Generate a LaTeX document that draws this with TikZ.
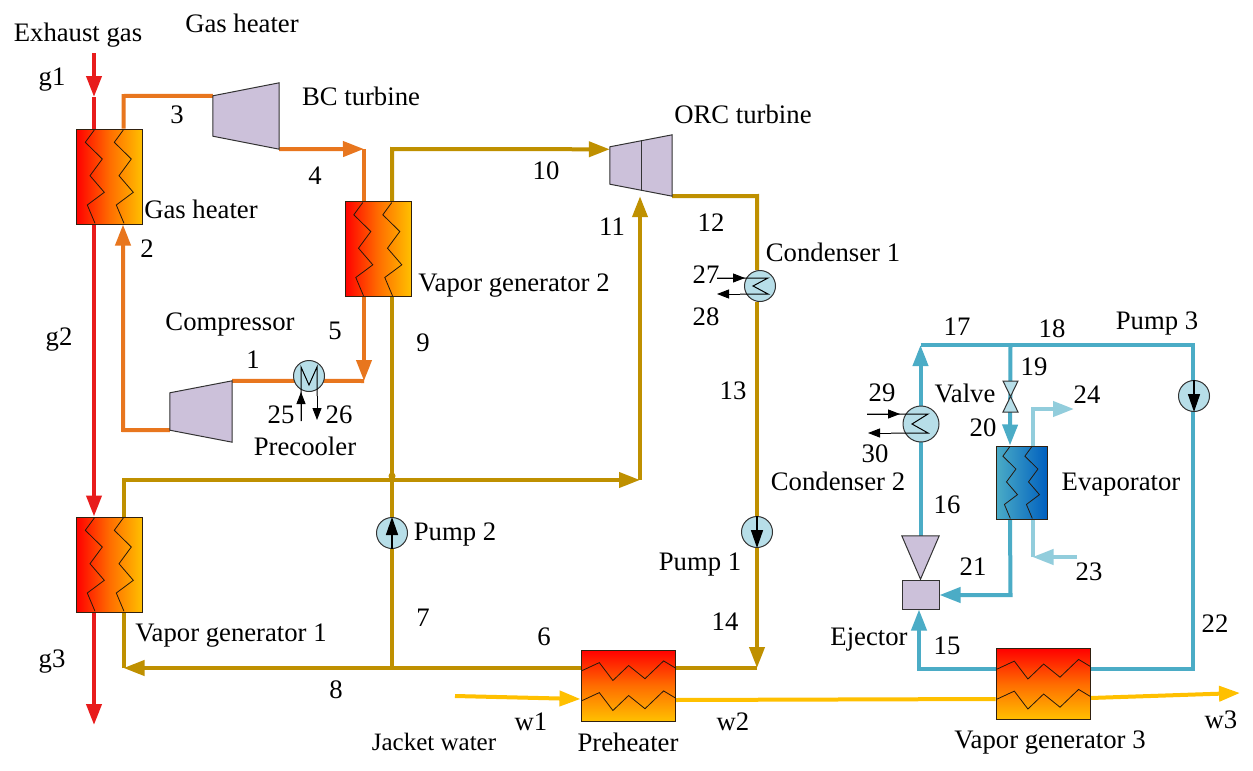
\documentclass[tikz,border=0pt]{standalone}
\usepackage{fontspec}
\setmainfont{Liberation Serif}
\usetikzlibrary{arrows.meta,positioning,backgrounds,calc}
\definecolor{gasred}{HTML}{E81C1C}
\definecolor{co2line}{HTML}{E8761E}
\definecolor{orcline}{HTML}{BF9000}
\definecolor{watline}{HTML}{FFC000}
\definecolor{ejline}{HTML}{4BACC6}
\definecolor{chillline}{HTML}{92CDDC}
\definecolor{machine}{HTML}{CCC1DA}
\definecolor{coil}{HTML}{B7DEE8}
\tikzset{
  bigtip/.style={-{Triangle[length=21pt,width=15pt]}},
  pipe/.style={line width=4pt,line join=miter},
  lbl/.style={font=\fontsize{26.7}{30}\selectfont,inner sep=0pt},
  hxbox/.style={draw=black!75!brown,line width=1pt,inner sep=0pt},
  hxv/.style={hxbox,minimum width=66pt,minimum height=95pt,left color=red,right color=watline,middle color=orange!85!red},
  hxh/.style={hxbox,minimum width=94pt,minimum height=71pt,top color=red,bottom color=watline,middle color=orange!85!red},
  evapbox/.style={hxbox,minimum width=51pt,minimum height=73pt,left color=ejline,right color=blue!50!cyan!75!black},
  machbox/.style={inner sep=0pt},
  machfill/.style={draw=black!80,fill=machine,line width=1pt},
  roundm/.style={circle,draw=black!80,fill=coil,line width=1pt,inner sep=0pt,minimum size=#1},
  thinflow/.style={line width=1pt,-{Triangle[length=12pt,width=9pt]}},
  zig/.style={line width=0.8pt,black!80!brown},
}
\newcommand{\zigvert}{(-15.2,-46.5) -- (-24.2,-34.2) -- (-7.2,-17.5) -- (-19.5,-0.8) -- (-5.2,15.8) -- (-22.2,28.5) -- (-14.5,46.8)}
\newcommand{\zighorz}{(-46.6,-14.6) -- (-28.7,-22.9) -- (-15.1,-5) -- (0.6,-20) -- (17,-6.8) -- (35.6,-24.6) -- (47.4,-17.5)}
\begin{document}
\begin{tikzpicture}[x=1pt,y=-1pt]
  \useasboundingbox (0,0) rectangle (1253,771);
  % heat exchangers
  \node[hxv] (gasheater) at (109.5,176.5) {};
  \node[hxv] (vgtwo) at (378,249) {};
  \node[hxv] (vgone) at (109.5,564.5) {};
  \node[hxh] (preheater) at (628,685.5) {};
  \node[hxh] (vgthree) at (1043,684) {};
  \node[evapbox] (evaporator) at (1021.5,482.5) {};
  \foreach \hx in {gasheater,vgtwo,vgone}{
    \begin{scope}[shift={(\hx.center)}]
      \draw[zig] \zigvert;
      \draw[zig,xshift=29pt] \zigvert;
    \end{scope}
  }
  \foreach \hx in {preheater,vgthree}{
    \begin{scope}[shift={(\hx.center)}]
      \draw[zig] \zighorz;
      \draw[zig,yshift=-30pt] \zighorz;
    \end{scope}
  }
  \begin{scope}[shift={(evaporator.center)},x=0.77pt,y=-0.77pt]
    \draw[zig] \zigvert;
    \draw[zig,xshift=22pt] \zigvert;
  \end{scope}
  % machines
  \node[machbox,minimum width=66pt,minimum height=66pt] (bcturbine) at (246,116) {};
  \node[machbox,minimum width=62pt,minimum height=61pt] (compressor) at (201,411.5) {};
  \node[machbox,minimum width=62pt,minimum height=61pt] (orcturbine) at (641,165.5) {};
  \foreach \tb/\ins in {bcturbine/13,compressor/12,orcturbine/12}
    \draw[machfill] ([yshift=-\ins pt]\tb.north west) -- (\tb.north east) -- (\tb.south east)
      -- ([yshift=\ins pt]\tb.south west) -- cycle;
  \draw[line width=1pt,black!80] ($([yshift=-12pt]orcturbine.north west)!.5!(orcturbine.north east)$)
    -- ($([yshift=12pt]orcturbine.south west)!.5!(orcturbine.south east)$);
  \node[machbox,minimum width=37pt,minimum height=43pt] (nozzle) at (920.5,557.5) {};
  \draw[machfill] (nozzle.north west) -- (nozzle.north east) -- (nozzle.south) -- cycle;
  \node[machfill,machbox,minimum width=37pt,minimum height=29pt] (ejector) at (920.5,594.5) {};
  % round components
  \node[roundm=31pt] (pumptwo) at (392,533) {};
  \node[roundm=31pt] (pumpone) at (757,532) {};
  \node[roundm=31pt] (pumpthree) at (1194,396) {};
  \node[roundm=31pt] (condone) at (760,286) {};
  \node[roundm=36pt] (condtwo) at (921,424) {};
  \node[roundm=31pt] (precooler) at (309,376) {};
  \foreach \pp/\a/\b in {pumptwo/south/north,pumpone/north/south,pumpthree/north/south}
    \draw[line width=1.5pt,-{Triangle[length=18pt,width=12pt]}] (\pp.\a) -- (\pp.\b);
  \node[inner sep=0pt,minimum size=0pt] (valve) at (1010.5,396.5) {};
  \draw[line width=1pt,black!80,fill=coil] ([shift={(-7.5,-15.5)}]valve.center) -- ([shift={(7.5,-15.5)}]valve.center)
    -- ([shift={(-7.5,15.5)}]valve.center) -- ([shift={(7.5,15.5)}]valve.center) -- cycle;
  % coils
  \begin{scope}[shift={(precooler.center)}]
    \draw[line width=1pt] (-8,45) -- (-8,-9) -- (0,9) -- (8,-9) -- (8,20);
    \draw[thinflow] (-8,45) -- (-8,16);
    \draw[thinflow] (8,20) -- (8,44);
  \end{scope}
  \begin{scope}[shift={(condone.center)}]
    \draw[line width=1pt] (-43,-8) -- (8,-8) -- (-7,0) -- (8,8) -- (-20,8);
    \draw[thinflow] (-43,-8) -- (-15,-8);
    \draw[thinflow] (-20,8) -- (-43,8);
  \end{scope}
  \begin{scope}[shift={(condtwo.center)}]
    \draw[line width=1pt] (-54,-10) -- (7,-10) -- (-9,0) -- (7,9) -- (-30,9);
    \draw[thinflow] (-54,-10) -- (-21,-10);
    \draw[thinflow] (-30,9) -- (-53,9);
  \end{scope}
  % pipes
  \begin{scope}[on background layer]
    \fill[white] (0,0) rectangle (1253,771);
    \coordinate (gasin) at (94,53);
    \coordinate (gasmid) at (94,97);
    \coordinate (gasout) at (94,725);
    \draw[pipe,gasred,bigtip] (gasin) -- (gasmid);
    \draw[pipe,gasred] (gasmid) -- ([xshift=-15.5pt]gasheater.north);
    \draw[pipe,gasred,bigtip] ([xshift=-15.5pt]gasheater.south) -- ([xshift=-15.5pt]vgone.north);
    \draw[pipe,gasred,bigtip] ([xshift=-15.5pt]vgone.south) -- (gasout);
    % bc loop
    \coordinate (bcin) at (123.5,96);
    \coordinate (bcout) at (364,149);
    \coordinate (cool) at (364,381);
    \coordinate (ret) at (123,430);
    \draw[pipe,co2line] ([xshift=14pt]gasheater.north) -- (bcin) -- ([yshift=-13pt]bcturbine.north west);
    \draw[pipe,co2line,bigtip] (bcturbine.south east) -- (bcout);
    \draw[pipe,co2line] (bcout) -- ([xshift=-14pt]vgtwo.north);
    \draw[pipe,co2line,bigtip] ([xshift=-14pt]vgtwo.south) -- (cool);
    \draw[pipe,co2line] (cool) -- (compressor.north east);
    \draw[pipe,co2line,bigtip] ([yshift=12pt]compressor.south west) -- (ret) -- ([xshift=13.5pt]gasheater.south);
    % orc loop
    \coordinate (orcin) at (392,149);
    \coordinate (orcout) at (757,196);
    \coordinate (orcpump) at (757,668);
    \coordinate (split) at (392,668);
    \coordinate (vgret) at (123.5,668);
    \coordinate (vgup) at (123.5,480);
    \coordinate (lowpress) at (640,480);
    \draw[pipe,orcline,bigtip] ([xshift=14pt]vgtwo.north) -- (orcin) -- ([yshift=-14.5pt]orcturbine.north west);
    \draw[pipe,orcline] (orcturbine.south east) -- (orcout) -- (condone.north -| orcout);
    \draw[pipe,orcline,bigtip] (condone.south -| orcout) -- (orcpump);
    \draw[pipe,orcline] (orcpump) -- (preheater.east |- orcpump);
    \draw[pipe,orcline,bigtip] (preheater.west |- orcpump) -- (vgret);
    \draw[pipe,orcline] (vgret) -- ([xshift=14pt]vgone.south);
    \draw[pipe,orcline] (split) -- ([xshift=14pt]vgtwo.south);
    \draw[pipe,orcline,bigtip] ([xshift=14pt]vgone.north) -- (vgup) -- (lowpress);
    \draw[pipe,orcline,bigtip] (lowpress) -- (lowpress |- orcturbine.south);
    \fill[orcline] (392,476) circle (3.5pt);
    % ejector loop
    \coordinate (ejout) at (919,668.5);
    \coordinate (top) at (920.5,345);
    \coordinate (branch) at (1010.5,345);
    \coordinate (corner) at (1193,345);
    \coordinate (back) at (1193,668.5);
    \coordinate (second) at (1010.5,595);
    \draw[pipe,ejline,bigtip] (vgthree.west |- ejout) -- (ejout) -- (ejout |- ejector.south);
    \draw[pipe,ejline,bigtip] (nozzle.north) -- (top);
    \draw[pipe,ejline] (top) -- (corner) -- (back) -- (vgthree.east |- back);
    \draw[pipe,ejline,bigtip] (branch) -- ([xshift=-11.5pt]evaporator.north);
    \draw[pipe,ejline,bigtip] ([xshift=-11.5pt]evaporator.south) -- (second) -- (ejector.east |- second);
    % chilled water
    \coordinate (chillin) at (1077,557);
    \coordinate (chillturn) at (1032.5,557);
    \coordinate (chillup) at (1032.5,409);
    \coordinate (chillout) at (1074,409);
    \draw[pipe,chillline,bigtip] (chillin) -- (chillturn);
    \draw[pipe,chillline] (chillturn) -- ([xshift=11pt]evaporator.south);
    \draw[pipe,chillline,bigtip] ([xshift=11pt]evaporator.north) -- (chillup) -- (chillout);
    % jacket water
    \coordinate (jwin) at (455,696);
    \coordinate (jwout) at (1240,693);
    \draw[pipe,watline,bigtip] (jwin) -- (preheater.west |- 0,699);
    \draw[pipe,watline] (preheater.east |- 0,700) -- (vgthree.west |- 0,699);
    \draw[pipe,watline,bigtip] (vgthree.east |- 0,698) -- (jwout);
  \end{scope}
  % component labels
  \node[lbl] (lexhaust) at (78,35) {Exhaust gas};
  \node[lbl] (lheatertop) at (242,23) {Gas heater};
  \node[lbl] (lbc) at (361,96) {BC turbine};
  \node[lbl] (lheater) at (201,209) {Gas heater};
  \node[lbl] (lorc) at (743,114) {ORC turbine};
  \node[lbl] (lcondone) at (833,252) {Condenser 1};
  \node[lbl] (lvgtwo) at (514,286) {Vapor generator 2};
  \node[lbl] (lcomp) at (230,324) {Compressor};
  \node[lbl] (lpre) at (305,446) {Precooler};
  \node[lbl] (lpumpthree) at (1157,323) {Pump 3};
  \node[lbl] (lvalve) at (965,393) {Valve};
  \node[lbl] (lcondtwo) at (838,481) {Condenser 2};
  \node[lbl] (levap) at (1121,485) {Evaporator};
  \node[lbl] (lpumptwo) at (455,534) {Pump 2};
  \node[lbl] (lpumpone) at (700,565) {Pump 1};
  \node[lbl] (lvgone) at (231,636) {Vapor generator 1};
  \node[lbl] (lejector) at (869,639) {Ejector};
  \node[lbl,font=\fontsize{25}{28}\selectfont] (ljacket) at (434,742) {Jacket water};
  \node[lbl] (lpreheater) at (628,742) {Preheater};
  \node[lbl] (lvgthree) at (1050,743) {Vapor generator 3};
  % state points
  \foreach \px/\py/\st in {52/80/g1,59/340/g2,52/662/g3,531/722/w1,733/722/w2,1221/720/w3,
    253/360/1,147/249/2,177/115/3,315/176/4,335/331/5,544/637/6,423/618/7,336/690/8,423/343/9,
    546/171/10,612/227/11,711/223/12,733/391/13,725/622/14,947/646/15,947/505/16,957/327/17,
    1052/329/18,1034/367/19,983/428/20,973/567/21,1215/624/22,1089/572/23,1087/395/24,
    281/415/25,339/415/26,706/275/27,706/317/28,882/393/29,875/454/30}
    \node[lbl] (st\st) at (\px,\py) {\st};
\end{tikzpicture}
\end{document}
